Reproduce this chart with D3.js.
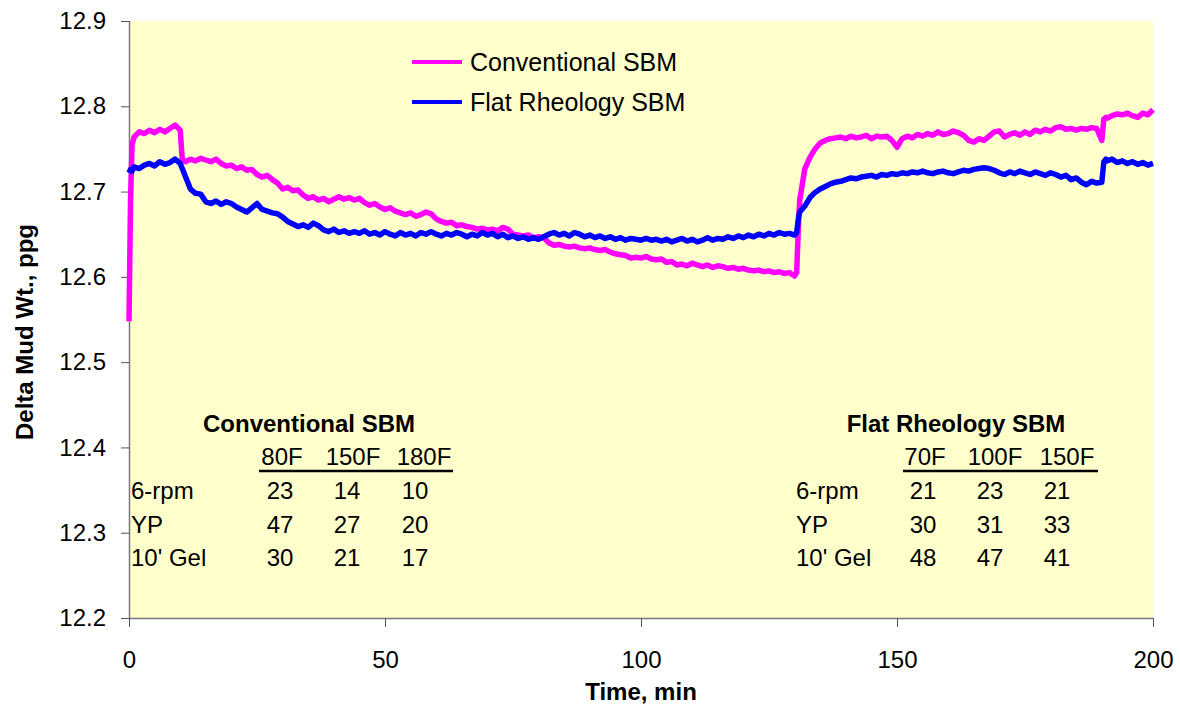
<!DOCTYPE html>
<html>
<head>
<meta charset="utf-8">
<script src="https://cdn.jsdelivr.net/npm/d3@7"></script>
<style>
  body { margin: 0; background: #fff; }
  text { font-family: "Liberation Sans", Arial, sans-serif; fill: #000; }
</style>
</head>
<body>
<div id="chart"></div>
<script>
// time, min
const minutes = [
  0, 0.3, 0.6, 1, 2, 3, 4, 5, 6, 7, 8, 9, 10, 10.4,
  11, 12, 13, 14, 15, 16, 17, 18, 19, 20, 21, 22, 23, 24, 25, 26, 27, 28, 29, 30,
  31, 32, 33, 34, 35, 36, 37, 38, 39, 40, 41, 42, 43, 44, 45, 46, 47, 48, 49, 50,
  51, 52, 53, 54, 55, 56, 57, 58, 59, 60, 61, 62, 63, 64, 65, 66, 67, 68, 69, 70,
  71, 72, 73, 74, 75, 76, 77, 78, 79, 80, 81, 82, 83, 84, 85, 86, 87, 88, 89, 90,
  91, 92, 93, 94, 95, 96, 97, 98, 99, 100, 101, 102, 103, 104, 105, 106, 107, 108, 109, 110,
  111, 112, 113, 114, 115, 116, 117, 118, 119, 120, 121, 122, 123, 124, 125, 126, 127, 128, 129, 130,
  130.4, 130.8,
  131, 132, 133, 134, 135, 136, 137, 138, 139, 140, 141, 142, 143, 144, 145, 146, 147, 148, 149, 150,
  151, 152, 153, 154, 155, 156, 157, 158, 159, 160, 161, 162, 163, 164, 165, 166, 167, 168, 169, 170,
  171, 172, 173, 174, 175, 176, 177, 178, 179, 180, 181, 182, 183, 184, 185, 186, 187, 188, 189, 190,
  190.4, 190.8,
  191, 192, 193, 194, 195, 196, 197, 198, 199, 200
];

const conventional = [
  12.548, 12.690, 12.755, 12.764, 12.770, 12.768, 12.772, 12.769, 12.773, 12.770, 12.774, 12.778, 12.772, 12.738,
  12.735, 12.738, 12.736, 12.739, 12.737, 12.735, 12.738, 12.733, 12.730, 12.731, 12.727, 12.729, 12.725, 12.726, 12.720, 12.717, 12.719, 12.714, 12.710, 12.703,
  12.705, 12.701, 12.702, 12.696, 12.692, 12.694, 12.690, 12.692, 12.688, 12.691, 12.694, 12.691, 12.693, 12.690, 12.692, 12.687, 12.684, 12.686, 12.682, 12.679,
  12.681, 12.677, 12.675, 12.673, 12.675, 12.671, 12.673, 12.676, 12.674, 12.668, 12.665, 12.663, 12.664, 12.660, 12.661, 12.659, 12.658, 12.656, 12.657, 12.655,
  12.656, 12.654, 12.658, 12.656, 12.650, 12.649, 12.648, 12.649, 12.646, 12.647, 12.646, 12.640, 12.637, 12.638, 12.636, 12.635, 12.636, 12.634, 12.633, 12.634,
  12.632, 12.631, 12.632, 12.629, 12.627, 12.626, 12.625, 12.622, 12.623, 12.622, 12.624, 12.621, 12.620, 12.621, 12.617, 12.618, 12.614, 12.615, 12.613, 12.616,
  12.614, 12.612, 12.614, 12.611, 12.613, 12.612, 12.610, 12.611, 12.609, 12.610, 12.608, 12.607, 12.608, 12.606, 12.607, 12.605, 12.606, 12.604, 12.605, 12.601,
  12.605, 12.668,
  12.690, 12.727, 12.740, 12.750, 12.757, 12.760, 12.762, 12.763, 12.764, 12.762, 12.765, 12.763, 12.764, 12.766, 12.762, 12.765, 12.764, 12.765, 12.760, 12.752,
  12.762, 12.765, 12.763, 12.767, 12.765, 12.768, 12.766, 12.770, 12.767, 12.768, 12.771, 12.769, 12.766, 12.760, 12.758, 12.762, 12.760, 12.765, 12.770, 12.771,
  12.764, 12.767, 12.769, 12.766, 12.770, 12.767, 12.772, 12.770, 12.773, 12.771, 12.775, 12.776, 12.773, 12.774, 12.772, 12.774, 12.773, 12.775, 12.774, 12.760,
  12.785, 12.787,
  12.786, 12.789, 12.791, 12.790, 12.792, 12.789, 12.787, 12.792, 12.790, 12.796
];

const flatRheology = [
  12.722, 12.726, 12.724, 12.729, 12.727, 12.731, 12.733, 12.730, 12.735, 12.732, 12.734, 12.738, 12.733, 12.727,
  12.718, 12.703, 12.698, 12.697, 12.688, 12.686, 12.689, 12.685, 12.688, 12.686, 12.682, 12.679, 12.676, 12.681, 12.686, 12.679, 12.677, 12.675, 12.674, 12.670,
  12.665, 12.662, 12.659, 12.661, 12.658, 12.663, 12.660, 12.655, 12.653, 12.656, 12.652, 12.654, 12.651, 12.653, 12.651, 12.654, 12.650, 12.652, 12.649, 12.653,
  12.650, 12.648, 12.652, 12.649, 12.651, 12.648, 12.652, 12.650, 12.653, 12.650, 12.648, 12.651, 12.649, 12.652, 12.650, 12.647, 12.650, 12.648, 12.652, 12.649,
  12.651, 12.647, 12.650, 12.646, 12.648, 12.645, 12.647, 12.644, 12.646, 12.644, 12.647, 12.650, 12.652, 12.649, 12.651, 12.648, 12.652, 12.650, 12.647, 12.649,
  12.646, 12.648, 12.645, 12.647, 12.644, 12.646, 12.643, 12.645, 12.644, 12.643, 12.645, 12.643, 12.644, 12.642, 12.644, 12.641, 12.643, 12.645, 12.642, 12.644,
  12.641, 12.643, 12.646, 12.643, 12.645, 12.644, 12.647, 12.645, 12.648, 12.646, 12.649, 12.647, 12.650, 12.648, 12.651, 12.649, 12.652, 12.650, 12.651, 12.649,
  12.652, 12.671,
  12.676, 12.683, 12.693, 12.699, 12.703, 12.706, 12.709, 12.711, 12.712, 12.714, 12.716, 12.715, 12.717, 12.718, 12.719, 12.717, 12.720, 12.719, 12.721, 12.720,
  12.722, 12.721, 12.723, 12.722, 12.724, 12.722, 12.721, 12.723, 12.724, 12.722, 12.721, 12.723, 12.725, 12.724, 12.726, 12.727, 12.728, 12.727, 12.725, 12.722,
  12.720, 12.723, 12.721, 12.724, 12.722, 12.720, 12.723, 12.721, 12.719, 12.722, 12.720, 12.717, 12.719, 12.714, 12.716, 12.711, 12.708, 12.712, 12.710, 12.711,
  12.735, 12.738,
  12.736, 12.738, 12.734, 12.736, 12.733, 12.735, 12.732, 12.734, 12.731, 12.733
];

const seriesNames = ['Conventional SBM', 'Flat Rheology SBM'];
const seriesColors = ['#FF00FF', '#0000FF'];

const xTicks = [0, 50, 100, 150, 200];
const yTicks = [12.2, 12.3, 12.4, 12.5, 12.6, 12.7, 12.8, 12.9];

// rheology tables
const rowLabels = ['6-rpm', 'YP', "10' Gel"];
const convTemps = ['80F', '150F', '180F'];
const convProps = [[23, 14, 10], [47, 27, 20], [30, 21, 17]];
const flatTemps = ['70F', '100F', '150F'];
const flatProps = [[21, 23, 21], [30, 31, 33], [48, 47, 41]];

const W = 1180, H = 708;
const margin = { top: 21, right: 27, bottom: 90, left: 129 };
const iw = W - margin.left - margin.right;
const ih = H - margin.top - margin.bottom;

const svg = d3.select('#chart').append('svg')
  .attr('width', W)
  .attr('height', H);

const g = svg.append('g')
  .attr('transform', `translate(${margin.left},${margin.top})`);

const x = d3.scaleLinear().domain([0, 200]).range([0, iw]);
const y = d3.scaleLinear().domain([12.2, 12.9]).range([ih, 0]);

g.append('rect')
  .attr('width', iw)
  .attr('height', ih)
  .attr('fill', '#FFFFCC');

// axes
const yAxis = g.append('g')
  .call(d3.axisLeft(y).tickValues(yTicks).tickSize(8).tickPadding(15).tickFormat(d3.format('.1f')));
const xAxis = g.append('g')
  .attr('transform', `translate(0,${ih})`)
  .call(d3.axisBottom(x).tickValues(xTicks).tickSize(9).tickPadding(24));

[xAxis, yAxis].forEach(a => {
  a.select('.domain').attr('stroke', '#777').attr('stroke-width', 1.5);
  a.selectAll('.tick line').attr('stroke', '#555');
  a.selectAll('.tick text')
    .attr('font-size', '24px')
    .attr('font-family', '"Liberation Sans", Arial, sans-serif')
    .attr('fill', '#000');
});
xAxis.select('.domain').attr('d', `M0,0.5H${iw}`);
yAxis.select('.domain').attr('d', `M0.5,0V${ih}`);

svg.append('text')
  .attr('x', margin.left + iw / 2)
  .attr('y', 700)
  .attr('text-anchor', 'middle')
  .attr('font-size', '24px')
  .attr('font-weight', 'bold')
  .text('Time, min');

svg.append('text')
  .attr('transform', 'translate(33,332) rotate(-90)')
  .attr('text-anchor', 'middle')
  .attr('font-size', '24px')
  .attr('font-weight', 'bold')
  .text('Delta Mud Wt., ppg');

// lines
const line = d3.line()
  .x((d, i) => x(minutes[i]))
  .y(d => y(d));

[conventional, flatRheology].forEach((vals, k) => {
  g.append('path')
    .datum(vals)
    .attr('d', line)
    .attr('fill', 'none')
    .attr('stroke', seriesColors[k])
    .attr('stroke-width', 5.5)
    .attr('stroke-linejoin', 'round');
});

// legend
const legend = svg.append('g').attr('transform', 'translate(412,62)');
seriesNames.forEach((name, i) => {
  legend.append('line')
    .attr('x1', 0).attr('x2', 50)
    .attr('y1', i * 40).attr('y2', i * 40)
    .attr('stroke', seriesColors[i])
    .attr('stroke-width', 4);
  legend.append('text')
    .attr('x', 58)
    .attr('y', i * 40 + 9)
    .attr('font-size', '25px')
    .text(name);
});

// property tables
const rowY = [499, 533, 566];

function drawTable(title, titleX, labelX, headX, valX, line0, line1, temps, props) {
  const t = svg.append('g');
  t.append('text')
    .attr('x', titleX).attr('y', 432)
    .attr('text-anchor', 'middle')
    .attr('font-size', '24px')
    .attr('font-weight', 'bold')
    .text(title);
  temps.forEach((s, j) => {
    t.append('text')
      .attr('x', headX[j]).attr('y', 465)
      .attr('text-anchor', 'middle')
      .attr('font-size', '24px')
      .text(s);
  });
  t.append('line')
    .attr('x1', line0).attr('x2', line1)
    .attr('y1', 471).attr('y2', 471)
    .attr('stroke', '#000')
    .attr('stroke-width', 2.5);
  rowLabels.forEach((r, i) => {
    t.append('text')
      .attr('x', labelX).attr('y', rowY[i])
      .attr('font-size', '24px')
      .text(r);
    props[i].forEach((v, j) => {
      t.append('text')
        .attr('x', valX[j]).attr('y', rowY[i])
        .attr('text-anchor', 'middle')
        .attr('font-size', '24px')
        .text(v);
    });
  });
}

drawTable('Conventional SBM', 309, 131, [282, 353, 424], [280, 347, 415], 259, 453, convTemps, convProps);
drawTable('Flat Rheology SBM', 956, 796, [925, 995, 1067], [923, 990, 1057], 903, 1098, flatTemps, flatProps);
</script>
</body>
</html>
